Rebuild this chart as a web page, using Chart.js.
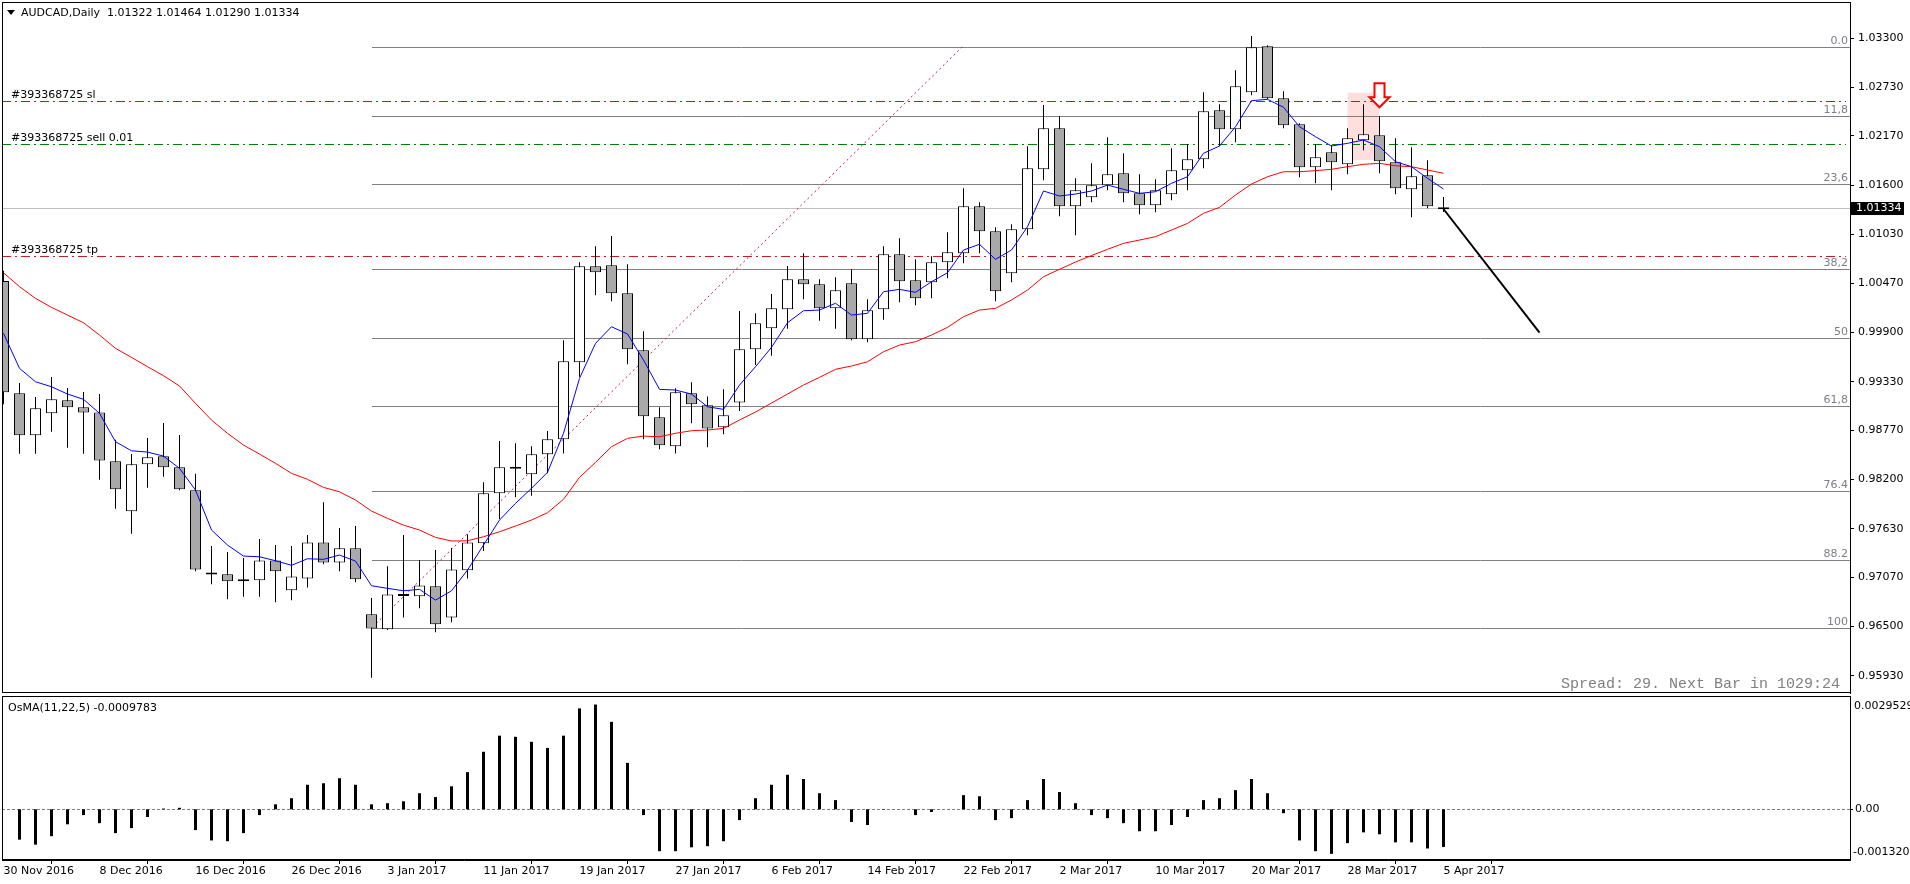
<!DOCTYPE html>
<html>
<head>
<meta charset="utf-8">
<script src="https://cdn.jsdelivr.net/npm/chart.js@4.4.1/dist/chart.umd.min.js"></script>
<style>
  html, body { margin:0; padding:0; background:#fff; overflow:hidden; }
  #wrap { position:relative; width:1910px; height:884px; }
  canvas { position:absolute; left:0; }
  #main { top:0; width:1910px; height:694px; }
  #osma { top:694px; width:1910px; height:190px; }
</style>
</head>
<body>
<div id="wrap">
  <canvas id="main" width="1910" height="694"></canvas>
  <canvas id="osma" width="1910" height="190"></canvas>
</div>
<script>
// AUDCAD daily, one entry per trading day from 30 Nov 2016 to 5 Apr 2017 (index = bar number)
const open = [
  1.00493,0.99195,0.98710,0.98964,0.99114,0.99033,0.98975,0.98409,0.97831,0.98374,
  0.98467,0.98340,0.98074,0.97103,0.97103,0.97022,0.97033,0.97264,0.96918,0.97056,
  0.97472,0.97241,0.97403,0.96640,0.96467,0.96871,0.96848,0.96964,0.96605,0.97149,
  0.97461,0.98039,0.98323,0.98259,0.98490,0.98663,0.99554,1.00663,1.00675,1.00351,
  0.99692,0.98918,0.98582,0.99195,0.99056,0.98802,0.99090,0.99704,0.99947,1.00166,
  1.00513,1.00455,1.00178,1.00467,0.99819,1.00166,1.00802,1.00501,1.00478,1.00710,
  1.00814,1.01357,1.01068,1.00582,1.01091,1.01785,1.02259,1.01357,1.01461,1.01600,
  1.01738,1.01507,1.01369,1.01496,1.01773,1.01900,1.02467,1.02247,1.02675,1.03207,
  1.02606,1.02305,1.01808,1.01981,1.01843,1.02120,1.02178,1.01866,1.01553,1.01715,
  1.01322
];
const high = [
  1.00612,0.99314,0.99152,0.99384,0.99256,0.99210,0.99187,0.98659,0.98493,0.98678,
  0.98852,0.98713,0.98266,0.97430,0.97360,0.97291,0.97511,0.97441,0.97430,0.97557,
  0.97935,0.97638,0.97661,0.96829,0.97195,0.97557,0.97268,0.97383,0.97407,0.97565,
  0.98166,0.98644,0.98617,0.98582,0.98759,0.99808,1.00710,1.00895,1.01014,1.00686,
  0.99912,0.99033,0.99253,0.99322,0.99160,0.99241,1.00147,1.00120,1.00343,1.00667,
  1.00814,1.00513,1.00536,1.00629,1.00282,1.00895,1.00987,1.00744,1.00779,1.01056,
  1.01565,1.01403,1.01114,1.01149,1.02051,1.02528,1.02398,1.01681,1.01854,1.02155,
  1.01970,1.01727,1.01669,1.02028,1.02074,1.02675,1.02536,1.02929,1.03326,1.03218,
  1.02687,1.02317,1.02074,1.02062,1.02259,1.02536,1.02398,1.02143,1.02039,1.01889,
  1.01464
];
const low = [
  0.99068,0.98497,0.98497,0.98751,0.98566,0.98497,0.98196,0.97861,0.97572,0.98104,
  0.98231,0.98074,0.97137,0.96987,0.96814,0.96844,0.96844,0.96779,0.96802,0.96952,
  0.97218,0.97137,0.97010,0.95907,0.96459,0.96605,0.96710,0.96432,0.96548,0.97056,
  0.97372,0.97742,0.97993,0.98011,0.98270,0.98501,0.99387,1.00328,1.00259,0.99530,
  0.98663,0.98548,0.98501,0.98848,0.98571,0.98721,0.98990,0.99522,0.99630,0.99942,
  1.00282,1.00034,0.99942,0.99808,0.99785,1.00046,1.00247,1.00212,1.00293,1.00525,
  1.00698,1.00814,1.00259,1.00478,1.01022,1.01658,1.01241,1.01022,1.01403,1.01542,
  1.01403,1.01264,1.01288,1.01426,1.01542,1.01796,1.02051,1.02097,1.02640,1.02594,
  1.02259,1.01692,1.01623,1.01542,1.01727,1.02004,1.01738,1.01496,1.01230,1.01334,
  1.01290
];
const close = [
  0.99207,0.98710,0.99022,0.99126,0.99033,0.98975,0.98420,0.98085,0.98374,0.98455,
  0.98340,0.98085,0.97160,0.97100,0.97022,0.97045,0.97264,0.97137,0.97079,0.97472,
  0.97241,0.97403,0.97045,0.96478,0.96871,0.96852,0.96975,0.96525,0.97160,0.97472,
  0.98039,0.98340,0.98325,0.98490,0.98663,0.99565,1.00663,1.00594,1.00351,0.99704,
  0.98929,0.98594,0.99207,0.99068,0.98790,0.98941,0.99704,1.00004,1.00178,1.00513,
  1.00455,1.00178,1.00386,0.99819,1.00155,1.00802,1.00490,1.00293,1.00710,1.00825,
  1.01357,1.01068,1.00374,1.01091,1.01796,1.02259,1.01357,1.01542,1.01600,1.01727,
  1.01507,1.01369,1.01542,1.01773,1.01900,1.02455,1.02247,1.02744,1.03195,1.02606,
  1.02293,1.01808,1.01924,1.01866,1.02143,1.02189,1.01877,1.01565,1.01704,1.01357,
  1.01334
];
// moving averages (blue fast, red slow)
const maFast = [
  0.99889,0.99484,0.99329,0.99271,0.99187,0.99126,0.98964,0.98636,0.98531,0.98516,
  0.98470,0.98328,0.98077,0.97615,0.97441,0.97314,0.97306,0.97260,0.97207,0.97283,
  0.97276,0.97326,0.97256,0.96971,0.96941,0.96913,0.96929,0.96805,0.96913,0.97152,
  0.97441,0.97730,0.97923,0.98097,0.98282,0.98733,0.99368,0.99773,0.99965,0.99881,
  0.99580,0.99241,0.99233,0.99187,0.99040,0.99010,0.99291,0.99503,0.99727,1.00011,
  1.00150,1.00158,1.00236,1.00100,1.00120,1.00370,1.00397,1.00363,1.00485,1.00589,
  1.00852,1.00918,1.00744,1.00852,1.01121,1.01534,1.01476,1.01499,1.01534,1.01603,
  1.01554,1.01507,1.01526,1.01623,1.01699,1.01970,1.02054,1.02277,1.02578,1.02594,
  1.02502,1.02277,1.02162,1.02054,1.02085,1.02124,1.02046,1.01873,1.01815,1.01681,
  1.01557
];
const maSlow = [
  1.00589,1.00428,1.00293,1.00189,1.00100,1.00011,0.99869,0.99715,0.99611,0.99503,
  0.99399,0.99280,0.99079,0.98886,0.98733,0.98597,0.98493,0.98386,0.98270,0.98201,
  0.98108,0.98057,0.97962,0.97834,0.97750,0.97672,0.97615,0.97530,0.97488,0.97491,
  0.97537,0.97595,0.97661,0.97730,0.97815,0.97970,0.98224,0.98397,0.98578,0.98675,
  0.98701,0.98693,0.98733,0.98763,0.98771,0.98790,0.98886,0.98979,0.99083,0.99187,
  0.99291,0.99380,0.99473,0.99511,0.99560,0.99676,0.99753,0.99792,0.99869,0.99958,
  1.00081,1.00158,1.00178,1.00274,1.00389,1.00543,1.00629,1.00713,1.00788,1.00860,
  1.00929,1.00967,1.01006,1.01083,1.01160,1.01276,1.01345,1.01488,1.01615,1.01699,
  1.01757,1.01757,1.01769,1.01785,1.01815,1.01843,1.01854,1.01826,1.01815,1.01777,
  1.01739
];
// OsMA(11,22,5) histogram
const osma = [
  null,-0.00079,-0.00092,-0.00070,-0.00039,-0.00015,-0.00036,-0.00062,-0.00049,-0.00020,
  0.00002,0.00004,-0.00054,-0.00081,-0.00083,-0.00062,-0.00015,0.00013,0.00029,0.00064,
  0.00068,0.00081,0.00064,0.00013,0.00016,0.00021,0.00042,0.00032,0.00060,0.00097,
  0.00150,0.00192,0.00189,0.00176,0.00160,0.00192,0.00263,0.00273,0.00228,0.00121,
  -0.00015,-0.00109,-0.00109,-0.00099,-0.00096,-0.00083,-0.00028,0.00029,0.00064,0.00090,
  0.00079,0.00042,0.00024,-0.00033,-0.00041,0.00001,0.00000,-0.00015,-0.00007,0.00000,
  0.00037,0.00034,-0.00028,-0.00023,0.00024,0.00079,0.00045,0.00016,-0.00015,-0.00023,
  -0.00036,-0.00057,-0.00057,-0.00041,-0.00020,0.00024,0.00029,0.00050,0.00079,0.00042,
  -0.00010,-0.00081,-0.00109,-0.00116,-0.00088,-0.00060,-0.00065,-0.00086,-0.00086,-0.00102,
  -0.00098
];

const priceTicks = [1.033,1.0273,1.0217,1.016,1.0103,1.0047,0.999,0.9933,0.9877,0.982,0.9763,0.9707,0.965,0.9593];
const dateTicks = ['30 Nov 2016','8 Dec 2016','16 Dec 2016','26 Dec 2016','3 Jan 2017','11 Jan 2017',
  '19 Jan 2017','27 Jan 2017','6 Feb 2017','14 Feb 2017','22 Feb 2017','2 Mar 2017','10 Mar 2017',
  '20 Mar 2017','28 Mar 2017','5 Apr 2017'];
const dateTickStep = 6;

const fibLevels = [0, 11.8, 23.6, 38.2, 50, 61.8, 76.4, 88.2, 100];
const fibLabels = ['0.0','11,8','23,6','38,2','50','61,8','76.4','88.2','100'];
const fibHigh = 1.03195, fibLow = 0.96478, fibFromBar = 23;

const orderLabels = ['#393368725 sl', '#393368725 sell 0.01', '#393368725 tp'];
const orderPrices = [1.02574, 1.02074, 1.00779];

const trendBars = [23.3, 59.94], trendPrices = [0.96536, 1.03204];
const forecastBars = [90, 96], forecastPrices = [1.01326, 0.99896];
const zoneBars = [84, 86], zonePrices = [1.02670, 1.01892];
const arrowBar = 86, arrowPrice = 1.02502;

const lastPrice = 1.01334;
const headerText = 'AUDCAD,Daily  1.01322 1.01464 1.01290 1.01334';
const spreadText = 'Spread: 29. Next Bar in 1029:24';
const osmaTitle = 'OsMA(11,22,5) -0.0009783';
const osmaMax = 0.0029529, osmaMin = -0.00132;
const osmaAxisLabels = ['0.0029529', '0.00', '-0.001320'];

const X_MIN = -0.09375, X_MAX = 115.40625;
const Y_MIN = 0.95731, Y_MAX = 1.03719;
const FONT = '"DejaVu Sans", "Liberation Sans", Arial, sans-serif';

const mainOverlay = {
  id: 'mainOverlay',
  beforeDatasetsDraw(chart) {
    const {ctx, chartArea: a, scales: {x, y}} = chart;
    const py = p => Math.round(y.getPixelForValue(p)) + 0.5;
    ctx.save();
    ctx.beginPath(); ctx.rect(a.left, a.top, a.right - a.left, a.bottom - a.top); ctx.clip();

    // highlighted zone
    const zx0 = x.getPixelForValue(zoneBars[0]), zx1 = x.getPixelForValue(zoneBars[1]);
    const zy0 = y.getPixelForValue(zonePrices[0]), zy1 = y.getPixelForValue(zonePrices[1]);
    ctx.fillStyle = '#ffdede';
    ctx.fillRect(zx0, zy0, zx1 - zx0, zy1 - zy0);

    ctx.lineWidth = 1;
    // bid line
    ctx.strokeStyle = '#c0c0c0';
    ctx.beginPath(); ctx.moveTo(a.left, py(lastPrice)); ctx.lineTo(a.right, py(lastPrice)); ctx.stroke();

    // fibo levels
    ctx.font = '11px ' + FONT;
    ctx.textAlign = 'right'; ctx.textBaseline = 'bottom';
    const fx = Math.round(x.getPixelForValue(fibFromBar));
    fibLevels.forEach((lv, k) => {
      const yy = py(fibHigh - (fibHigh - fibLow) * lv / 100);
      ctx.strokeStyle = '#808080';
      ctx.beginPath(); ctx.moveTo(fx, yy); ctx.lineTo(a.right, yy); ctx.stroke();
      ctx.fillStyle = '#7c7c8c';
      ctx.fillText(fibLabels[k], a.right - 2, yy - 1);
    });

    // order lines
    const orderColors = ['#b22222', '#008000', '#c41e1e'];
    ctx.textAlign = 'left';
    orderPrices.forEach((p, k) => {
      const yy = py(p);
      ctx.strokeStyle = orderColors[k];
      ctx.setLineDash([9, 4, 2, 4]);
      ctx.beginPath(); ctx.moveTo(a.left, yy); ctx.lineTo(a.right - 4, yy); ctx.stroke();
      ctx.setLineDash([]);
      ctx.fillStyle = '#000';
      ctx.fillText(orderLabels[k], a.left + 9, yy - 1);
    });
    ctx.restore();
  },
  afterDatasetsDraw(chart) {
    const {ctx, chartArea: a, scales: {x, y}} = chart;
    ctx.save();
    // sell arrow
    const ax = x.getPixelForValue(arrowBar), ay = y.getPixelForValue(arrowPrice);
    ctx.beginPath();
    ctx.moveTo(ax, ay);
    ctx.lineTo(ax - 10, ay - 10);
    ctx.lineTo(ax - 5, ay - 10);
    ctx.lineTo(ax - 5, ay - 24);
    ctx.lineTo(ax + 5, ay - 24);
    ctx.lineTo(ax + 5, ay - 10);
    ctx.lineTo(ax + 10, ay - 10);
    ctx.closePath();
    ctx.fillStyle = '#fff'; ctx.fill();
    ctx.strokeStyle = '#ff0000'; ctx.lineWidth = 2; ctx.stroke();

    // header
    ctx.fillStyle = '#000';
    ctx.beginPath(); ctx.moveTo(7, 10); ctx.lineTo(15, 10); ctx.lineTo(11, 15); ctx.closePath(); ctx.fill();
    ctx.font = '11px ' + FONT;
    ctx.textAlign = 'left'; ctx.textBaseline = 'middle';
    ctx.fillText(headerText, 21, 13);

    // spread info
    ctx.font = '15px "Liberation Mono", "DejaVu Sans Mono", monospace';
    ctx.fillStyle = '#808080';
    ctx.textAlign = 'right';
    ctx.fillText(spreadText, 1840, 684);

    // frame
    ctx.strokeStyle = '#000'; ctx.lineWidth = 1;
    ctx.strokeRect(a.left + 0.5, a.top + 0.5, a.right - a.left, a.bottom - a.top - 1);
    ctx.restore();
  },
  afterDraw(chart) {
    const {ctx, chartArea: a, scales: {y}} = chart;
    const yy = Math.round(y.getPixelForValue(lastPrice));
    ctx.save();
    ctx.fillStyle = '#000';
    ctx.fillRect(a.right + 1, yy - 6, 53, 13);
    ctx.fillStyle = '#fff';
    ctx.font = '11px ' + FONT;
    ctx.textAlign = 'left'; ctx.textBaseline = 'middle';
    ctx.fillText(lastPrice.toFixed(5), a.right + 6, yy + 0.5);
    ctx.restore();
  }
};

new Chart(document.getElementById('main'), {
  type: 'bar',
  data: {
    datasets: [
      { type: 'line', data: maFast.map((v, i) => ({x: i, y: v})), borderColor: '#0000ff', borderWidth: 1,
        pointRadius: 0, tension: 0, order: 0 },
      { type: 'line', data: forecastBars.map((b, k) => ({x: b, y: forecastPrices[k]})), borderColor: '#000',
        borderWidth: 2, pointRadius: 0, order: 0 },
      { type: 'line', data: maSlow.map((v, i) => ({x: i, y: v})), borderColor: '#ff0000', borderWidth: 1,
        pointRadius: 0, tension: 0, order: 1 },
      { data: open.map((o, i) => ({x: i, y: [o, close[i]]})),
        backgroundColor: open.map((o, i) => close[i] >= o ? '#ffffff' : '#a9a9a9'),
        borderColor: '#000', borderWidth: 1, borderSkipped: false, barThickness: 11,
        minBarLength: 2, grouped: false, inflateAmount: 0, order: 2 },
      { data: high.map((h, i) => ({x: i, y: [low[i], h]})), backgroundColor: '#000',
        barThickness: 1, grouped: false, inflateAmount: 0, order: 3 },
      { type: 'line', data: trendBars.map((b, k) => ({x: b, y: trendPrices[k]})), borderColor: '#dc143c',
        borderWidth: 1, borderDash: [2, 3], pointRadius: 0, order: 4 }
    ]
  },
  options: {
    responsive: false, animation: false, devicePixelRatio: 1, events: [],
    layout: { padding: { left: 2, top: 2, right: 0, bottom: 1 } },
    plugins: { legend: { display: false }, tooltip: { enabled: false } },
    scales: {
      x: { type: 'linear', min: X_MIN, max: X_MAX, display: false, offset: false },
      y: {
        type: 'linear', position: 'right', min: Y_MIN, max: Y_MAX,
        afterBuildTicks: s => { s.ticks = priceTicks.map(v => ({value: v})); },
        afterFit: s => { s.width = 60; s.paddingTop = 0; s.paddingBottom = 0; },
        ticks: { callback: v => v.toFixed(5), font: { family: FONT, size: 11 }, color: '#000',
                 padding: 4, autoSkip: false },
        grid: { drawOnChartArea: false, drawTicks: true, tickLength: 4, color: '#000' },
        border: { display: true, color: '#000' }
      }
    }
  },
  plugins: [mainOverlay]
});

const osmaOverlay = {
  id: 'osmaOverlay',
  beforeDatasetsDraw(chart) {
    const {ctx, chartArea: a, scales: {y}} = chart;
    const y0 = Math.round(y.getPixelForValue(0)) + 0.5;
    ctx.save();
    ctx.strokeStyle = '#808080'; ctx.lineWidth = 1;
    ctx.setLineDash([3, 2]);
    ctx.beginPath(); ctx.moveTo(a.left, y0); ctx.lineTo(a.right, y0); ctx.stroke();
    ctx.restore();
  },
  afterDatasetsDraw(chart) {
    const {ctx, chartArea: a, scales: {y}} = chart;
    const y0 = Math.round(y.getPixelForValue(0)) + 0.5;
    ctx.save();
    ctx.strokeStyle = '#000'; ctx.lineWidth = 1;
    ctx.strokeRect(a.left + 0.5, a.top + 0.5, a.right - a.left, a.bottom - a.top - 1);
    ctx.beginPath(); ctx.moveTo(a.right, y0); ctx.lineTo(a.right + 3, y0); ctx.stroke();
    ctx.fillStyle = '#000';
    ctx.font = '11px ' + FONT;
    ctx.textAlign = 'left'; ctx.textBaseline = 'middle';
    ctx.fillText(osmaTitle, 8, 14);
    ctx.fillText(osmaAxisLabels[0], a.right + 4, y.getPixelForValue(osmaMax) + 10);
    ctx.fillText(osmaAxisLabels[1], a.right + 5, y0);
    ctx.fillText(osmaAxisLabels[2], a.right + 3, y.getPixelForValue(osmaMin) - 8);
    ctx.restore();
  }
};

new Chart(document.getElementById('osma'), {
  type: 'bar',
  data: {
    datasets: [{ data: osma.map((v, i) => ({x: i, y: v})), backgroundColor: '#000',
                 barThickness: 3, grouped: false, inflateAmount: 0 }]
  },
  options: {
    responsive: false, animation: false, devicePixelRatio: 1, events: [],
    layout: { padding: { left: 2, top: 2, right: 60, bottom: 0 } },
    plugins: { legend: { display: false }, tooltip: { enabled: false } },
    scales: {
      x: {
        type: 'linear', position: 'bottom', min: X_MIN, max: X_MAX, offset: false,
        afterBuildTicks: s => { s.ticks = dateTicks.map((t, k) => ({value: k * dateTickStep})); },
        afterFit: s => { s.height = 24; s.paddingLeft = 0; s.paddingRight = 0; },
        ticks: { callback: v => dateTicks[Math.round(v / dateTickStep)], align: 'start', maxRotation: 0,
                 autoSkip: false, font: { family: FONT, size: 11 }, color: '#000', padding: 1 },
        grid: { drawOnChartArea: false, drawTicks: true, tickLength: 4, color: '#000' },
        border: { display: true, color: '#000' }
      },
      y: { display: false, min: osmaMin, max: osmaMax }
    }
  },
  plugins: [osmaOverlay]
});
</script>
</body>
</html>
